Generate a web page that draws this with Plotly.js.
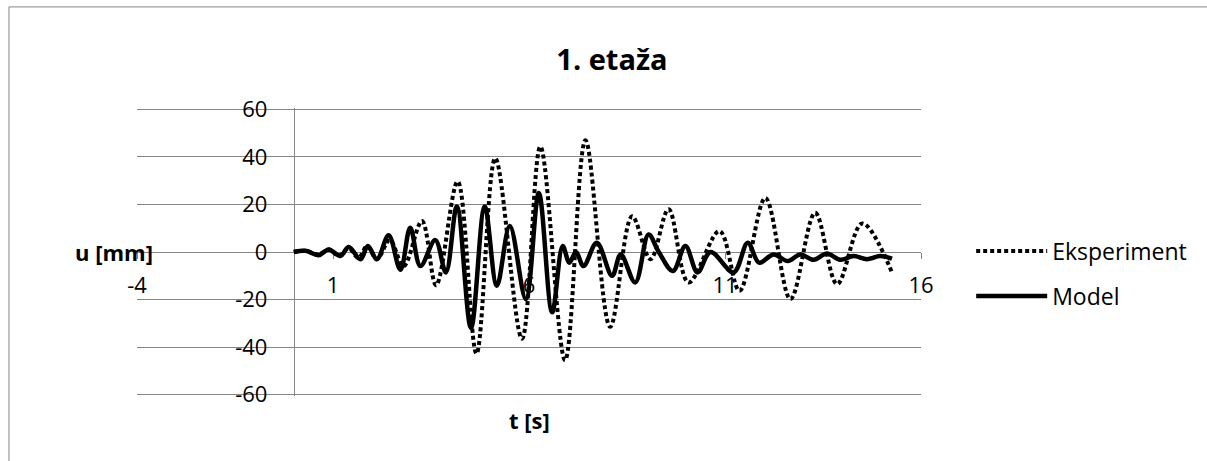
<!DOCTYPE html>
<html>
<head>
<meta charset="utf-8">
<script src="https://cdn.plot.ly/plotly-3.0.1.min.js"></script>
<style>html,body{margin:0;padding:0;background:#fff;}</style>
</head>
<body>
<div id="chart" style="width:1207px;height:461px;"></div>
<script>
// Data
var tEksperiment = [0, 0.3, 0.63, 0.9, 1.15, 1.4, 1.65, 1.87, 2.12, 2.45, 2.8, 3.27, 3.63, 4.18, 4.66, 5.14, 5.82, 6.29, 6.92, 7.44, 8.07, 8.63, 9.1, 9.56, 10.07, 10.86, 11.37, 12.03, 12.67, 13.3, 13.86, 14.5, 15.26];
var uEksperiment = [0, 0.5, -1, 1, -1.5, 1.5, -2.5, 2.5, -3, 5, -6, 13, -14, 29.7, -42.8, 39.5, -36.5, 44.4, -45.5, 47, -31.5, 15, -3, 18, -12.8, 8.8, -16.3, 22.7, -19.8, 16.5, -13.5, 12, -8.6];

var tModel = [0, 0.3, 0.63, 0.89, 1.19, 1.4, 1.7, 1.89, 2.12, 2.42, 2.72, 2.97, 3.23, 3.61, 3.88, 4.16, 4.52, 4.87, 5.18, 5.51, 5.92, 6.25, 6.59, 6.86, 7.03, 7.2, 7.39, 7.73, 8.12, 8.34, 8.71, 9.05, 9.31, 9.67, 9.99, 10.3, 10.63, 11.22, 11.58, 11.87, 12.24, 12.6, 12.92, 13.26, 13.6, 13.94, 14.28, 14.62, 14.96, 15.26];
var uModel = [0, 0.5, -1.4, 1.1, -1.7, 2.1, -3.1, 2.5, -3.1, 7, -7.5, 10.2, -5.9, 5, -8.6, 19.2, -32, 19.2, -14.2, 10.9, -19.8, 24.8, -25.4, 2.5, -4.5, 0, -5.9, 3.9, -10, -1, -12.8, 7.4, 0, -8, 2.5, -8.6, 0, -8.6, 3.9, -4.5, -1, -3.8, -1, -3.3, -0.6, -3.3, -1.7, -3, -1.7, -2.8];

var xTicks = [-4, 1, 6, 11, 16];
var yTicks = [-60, -40, -20, 0, 20, 40, 60];

var chartTitle = '1. etaža';
var xTitle = 't [s]';
var yTitle = 'u [mm]';
var names = ['Eksperiment', 'Model'];

var FONT = '"Open Sans", Lato, sans-serif';
var GRID = '#868686';

var traces = [
  {x: tEksperiment, y: uEksperiment, name: names[0], type: 'scatter', mode: 'lines',
   line: {color: '#000', width: 4, dash: '4px,3px', shape: 'spline', smoothing: 1}, legendgroup: 'a'},
  {x: tModel, y: uModel, name: names[1], type: 'scatter', mode: 'lines',
   line: {color: '#000', width: 4.5, shape: 'spline', smoothing: 1}, legendgroup: 'b'}
];

var layout = {
  width: 1207, height: 461,
  margin: {l: 137, r: 286, t: 108, b: 65, pad: 0},
  paper_bgcolor: '#fff', plot_bgcolor: '#fff',
  font: {family: FONT, size: 22, color: '#000'},
  title: {text: '<b>' + chartTitle + '</b>', font: {family: FONT, size: 29, color: '#000'},
          x: 0.507, xref: 'container', xanchor: 'center', y: 0.87, yref: 'container', yanchor: 'middle'},
  showlegend: true,
  legend: {x: 1.064, xanchor: 'left', y: 0.578, yanchor: 'top', tracegroupgap: 12,
           font: {family: FONT, size: 23, color: '#000'}, itemwidth: 71, bgcolor: 'rgba(0,0,0,0)'},
  xaxis: {
    range: [-4, 16], tickvals: xTicks, ticktext: xTicks.map(String),
    anchor: 'free', position: 0.5, showline: true, linecolor: GRID, linewidth: 1,
    ticks: 'outside', ticklen: 6, tickcolor: GRID, showgrid: false, zeroline: false,
    ticklabelstandoff: 8, layer: 'below traces',
    tickfont: {family: FONT, size: 22, color: '#000'}
  },
  yaxis: {
    range: [-60.6, 60.6], tickvals: yTicks, ticktext: yTicks.map(String),
    anchor: 'free', position: 0.2, showline: true, linecolor: GRID, linewidth: 1,
    ticks: 'outside', ticklen: 6, tickcolor: GRID, showgrid: true, gridcolor: GRID, gridwidth: 1,
    zeroline: false, ticklabelstandoff: 16, layer: 'below traces',
    tickfont: {family: FONT, size: 22, color: '#000'}
  },
  annotations: [
    {text: '<b>' + yTitle + '</b>', xref: 'paper', yref: 'y', x: 0.023, y: 0, xanchor: 'right', yanchor: 'middle',
     showarrow: false, font: {family: FONT, size: 22, color: '#000'}},
    {text: '<b>' + xTitle + '</b>', xref: 'paper', yref: 'paper', x: 0.5, y: -0.085, xanchor: 'center', yanchor: 'middle',
     showarrow: false, font: {family: FONT, size: 22, color: '#000'}}
  ],
  shapes: [
    {type: 'rect', xref: 'paper', yref: 'paper', x0: -0.1633, x1: 3, y0: -1, y1: 1.351,
     line: {color: GRID, width: 1}, fillcolor: 'rgba(0,0,0,0)', layer: 'below'}
  ]
};

Plotly.newPlot('chart', traces, layout, {displayModeBar: false, staticPlot: true});
</script>
</body>
</html>
